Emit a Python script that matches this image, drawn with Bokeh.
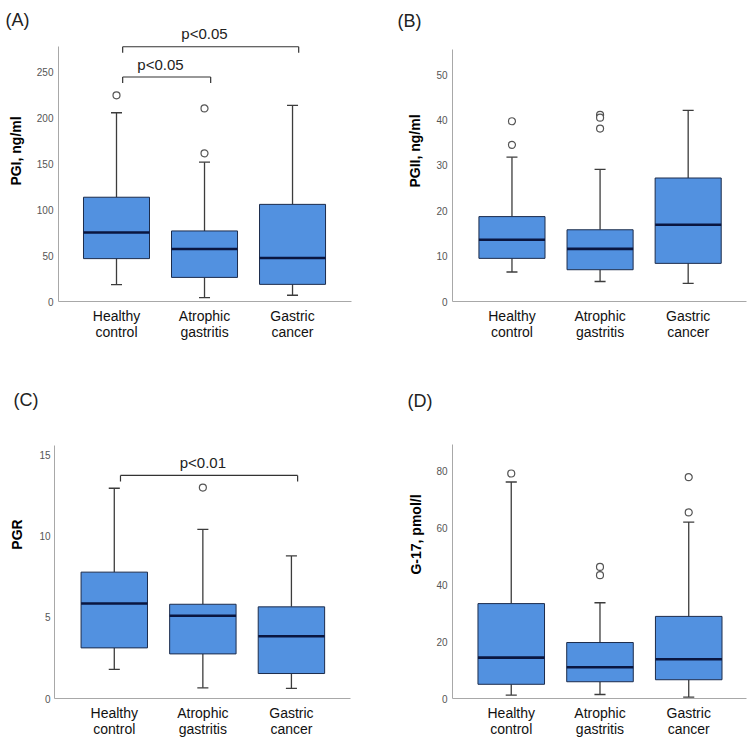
from bokeh.plotting import figure
from bokeh.layouts import column, row
from bokeh.models import FixedTicker
from bokeh.core.properties import value
from bokeh.embed import file_html
from bokeh.resources import INLINE

# ---------------- data ----------------
group_labels = ["Healthy\ncontrol", "Atrophic\ngastritis", "Gastric\ncancer"]

# (A) PGI, ng/ml
pgi_low = [18.4, 4.3, 6.8]
pgi_q1 = [46.8, 26.3, 18.7]
pgi_med = [75.3, 57.3, 47.5]
pgi_q3 = [113.8, 77.0, 106.0]
pgi_high = [206.0, 152.0, 214.0]
pgi_out_group = [0, 1, 1]
pgi_out_value = [225.0, 210.7, 161.7]
pgi_ticks = [0, 50, 100, 150, 200, 250]
pgi_br_from = [0, 0]
pgi_br_to = [1, 2]
pgi_br_level = [245.0, 278.0]
pgi_br_text = ["p<0.05", "p<0.05"]

# (B) PGII, ng/ml
pgii_low = [6.5, 4.4, 4.0]
pgii_q1 = [9.5, 7.0, 8.4]
pgii_med = [13.6, 11.6, 16.9]
pgii_q3 = [18.7, 15.8, 27.2]
pgii_high = [31.8, 29.1, 42.1]
pgii_out_group = [0, 0, 1, 1, 1]
pgii_out_value = [39.7, 34.5, 41.1, 40.5, 38.1]
pgii_ticks = [0, 10, 20, 30, 40, 50]

# (C) PGR
pgr_low = [1.79, 0.66, 0.62]
pgr_q1 = [3.12, 2.75, 1.54]
pgr_med = [5.86, 5.10, 3.84]
pgr_q3 = [7.79, 5.81, 5.65]
pgr_high = [12.96, 10.42, 8.79]
pgr_out_group = [1]
pgr_out_value = [13.0]
pgr_ticks = [0, 5, 10, 15]
pgr_br_from = [0]
pgr_br_to = [2]
pgr_br_level = [13.75]
pgr_br_text = ["p<0.01"]

# (D) G-17, pmol/l
g17_low = [1.2, 1.4, 0.5]
g17_q1 = [5.0, 5.9, 6.6]
g17_med = [14.4, 11.0, 13.8]
g17_q3 = [33.4, 19.7, 28.9]
g17_high = [76.2, 33.7, 62.1]
g17_out_group = [0, 1, 1, 2, 2]
g17_out_value = [79.2, 46.3, 43.4, 77.9, 65.5]
g17_ticks = [0, 20, 40, 60, 80]

# ---------------- style ----------------
FONT = "Liberation Sans"
BOX_FILL = "#5291e0"
BOX_LINE = "#1c2c4c"
MED_COLOR = "#0a1640"
WHISK = "#3c3c3c"
AXIS_GREY = "#a8a8a8"
BOX_W = 0.75
CAP_W = 0.125
BR_SHIFT = 0.07


def make_panel(letter, ytitle, low, q1, med, q3, high, out_g, out_v, ticks,
               geom, br=None):
    W, H, L, R, B = geom["W"], geom["H"], geom["L"], geom["R"], geom["B"]
    x0, x1 = geom["xr"]
    y0, y1 = geom["yr"]
    p = figure(width=W, height=H, x_range=(x0, x1), y_range=(y0, y1),
               output_backend="svg", toolbar_location=None, title=None,
               min_border_left=L, min_border_right=W - R,
               min_border_top=0, min_border_bottom=H - B)
    p.outline_line_color = None
    p.grid.visible = False
    p.background_fill_color = "white"
    p.border_fill_color = "white"

    pxu = (R - L) / (x1 - x0)
    pyu = B / (y1 - y0)

    def fx(px):
        return x0 + (px - L) / pxu

    def fy(py):
        return y1 - py / pyu

    xs = list(range(len(low)))
    # whiskers and caps
    p.segment(x0=xs, y0=high, x1=xs, y1=q3, line_color=WHISK, line_width=1.3)
    p.segment(x0=xs, y0=low, x1=xs, y1=q1, line_color=WHISK, line_width=1.3)
    p.segment(x0=[x - CAP_W / 2 for x in xs], y0=high,
              x1=[x + CAP_W / 2 for x in xs], y1=high,
              line_color=WHISK, line_width=1.3)
    p.segment(x0=[x - CAP_W / 2 for x in xs], y0=low,
              x1=[x + CAP_W / 2 for x in xs], y1=low,
              line_color=WHISK, line_width=1.3)
    # boxes
    p.vbar(x=xs, width=BOX_W, bottom=q1, top=q3, fill_color=BOX_FILL,
           line_color=BOX_LINE, line_width=1)
    # medians
    p.segment(x0=[x - BOX_W / 2 for x in xs], y0=med,
              x1=[x + BOX_W / 2 for x in xs], y1=med,
              line_color=MED_COLOR, line_width=2.6)
    # outliers
    p.scatter(x=out_g, y=out_v, marker="circle", size=7, fill_color="white",
              line_color="#555555", line_width=1.2)

    # significance brackets
    if br is not None:
        bfrom, bto, blevel, btext = br
        tip = 6 / pyu
        for f, t, lv, tx in zip(bfrom, bto, blevel, btext):
            xa, xb = f + BR_SHIFT, t + BR_SHIFT
            p.segment(x0=[xa, xa, xb], y0=[lv, lv - tip, lv - tip],
                      x1=[xb, xa, xb], y1=[lv, lv, lv],
                      line_color="#333333", line_width=1.2)
            p.text(x=[(f + t) / 2], y=[lv + 13 / pyu], text=[tx],
                   text_font=value(FONT), text_font_size="15px",
                   text_align="center", text_baseline="middle",
                   text_color="#222222")

    # panel letter
    p.text(x=[fx(geom["letter"][0])], y=[fy(geom["letter"][1])], text=[letter],
           text_font=value(FONT), text_font_size="18px", text_align="left",
           text_baseline="top", text_color="#222222", level="overlay")

    # x axis
    xa_ = p.xaxis[0]
    xa_.ticker = FixedTicker(ticks=xs)
    xa_.major_label_overrides = {i: lab for i, lab in enumerate(group_labels)}
    xa_.major_label_text_font = FONT
    xa_.major_label_text_font_size = "14px"
    xa_.major_label_text_color = "#111111"
    xa_.major_label_text_line_height = 1.0
    xa_.major_label_standoff = 6
    xa_.major_tick_out = 0
    xa_.major_tick_in = 0
    xa_.minor_tick_out = 0
    xa_.minor_tick_in = 0
    xa_.axis_line_color = AXIS_GREY

    # y axis (line stops at axis_top, below the top of the frame)
    ya_ = p.yaxis[0]
    ya_.bounds = (y0, geom["axis_top"])
    ya_.ticker = FixedTicker(ticks=ticks)
    ya_.axis_line_color = AXIS_GREY
    ya_.major_tick_out = 0
    ya_.major_tick_in = 0
    ya_.minor_tick_out = 0
    ya_.minor_tick_in = 0
    ya_.major_label_text_font = FONT
    ya_.major_label_text_font_size = "10px"
    ya_.major_label_text_color = "#555555"
    ya_.major_label_standoff = geom["lstand"]
    ya_.axis_label = ytitle
    ya_.axis_label_text_font = FONT
    ya_.axis_label_text_font_style = "bold"
    ya_.axis_label_text_font_size = "14px"
    ya_.axis_label_text_color = "#000000"
    ya_.axis_label_standoff = geom["tstand"]
    return p


geomA = dict(W=375, H=370, L=58, R=351, B=304, xr=(-0.659, 2.670),
             yr=(0, 328.5), axis_top=278, letter=(5, 10), lstand=5, tstand=10)
geomB = dict(W=374, H=370, L=77, R=371, B=301, xr=(-0.675, 2.662),
             yr=(0, 66.3), axis_top=55.6, letter=(22, 10), lstand=5, tstand=10)
geomC = dict(W=375, H=370, L=54, R=350, B=328, xr=(-0.675, 2.667),
             yr=(0, 20.22), axis_top=15.6, letter=(13, 19), lstand=4, tstand=11)
geomD = dict(W=374, H=370, L=77, R=371, B=328, xr=(-0.662, 2.651),
             yr=(0, 115.45), axis_top=89.5, letter=(32, 20), lstand=5, tstand=9)

pA = make_panel("(A)", "PGI, ng/ml", pgi_low, pgi_q1, pgi_med, pgi_q3, pgi_high,
                pgi_out_group, pgi_out_value, pgi_ticks, geomA,
                br=(pgi_br_from, pgi_br_to, pgi_br_level, pgi_br_text))
pB = make_panel("(B)", "PGII, ng/ml", pgii_low, pgii_q1, pgii_med, pgii_q3,
                pgii_high, pgii_out_group, pgii_out_value, pgii_ticks, geomB)
pC = make_panel("(C)", "PGR", pgr_low, pgr_q1, pgr_med, pgr_q3, pgr_high,
                pgr_out_group, pgr_out_value, pgr_ticks, geomC,
                br=(pgr_br_from, pgr_br_to, pgr_br_level, pgr_br_text))
pD = make_panel("(D)", "G-17, pmol/l", g17_low, g17_q1, g17_med, g17_q3,
                g17_high, g17_out_group, g17_out_value, g17_ticks, geomD)

layout = column(row(pA, pB), row(pC, pD))

open("out.html", "w").write(file_html(layout, INLINE))
